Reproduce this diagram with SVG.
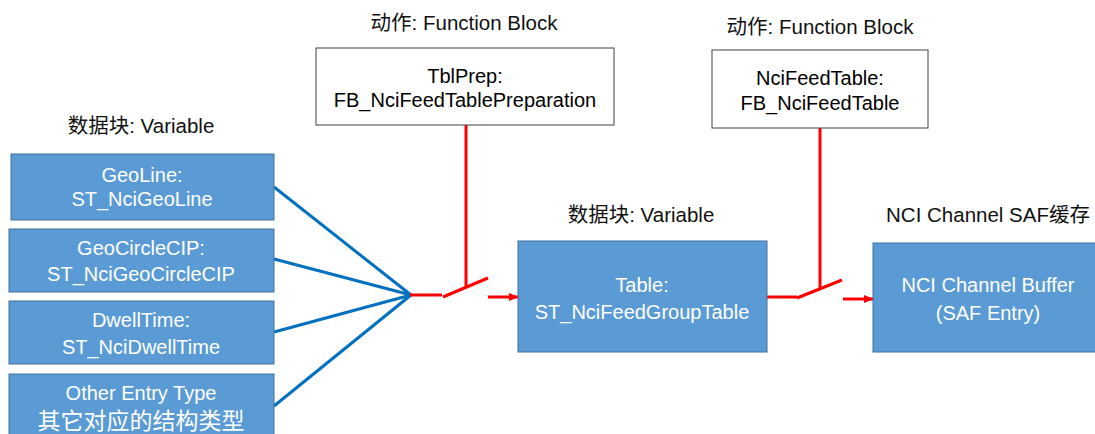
<svg xmlns="http://www.w3.org/2000/svg" width="1095" height="434" viewBox="0 0 1095 434">
  <defs>
    <marker id="redArrow" markerWidth="10" markerHeight="10" refX="9" refY="5" orient="auto" markerUnits="userSpaceOnUse">
      <path d="M0,1 L10,5 L0,9 Z" fill="#ff0000"/>
    </marker>
    <style>
      .var { fill: #5b9bd5; stroke: #41719c; stroke-width: 1; }
      .fb { fill: #ffffff; stroke: #404040; stroke-width: 1; }
      .inner { font-family: "Liberation Sans", "Noto Sans CJK SC", sans-serif; font-size: 20px; fill: #ffffff; text-anchor: middle; }
      .inner-cjk { font-size: 23px; }
      .fbtext { font-family: "Liberation Sans", "Noto Sans CJK SC", sans-serif; font-size: 20px; fill: #000000; text-anchor: middle; }
      .caption { font-family: "Liberation Sans", "Noto Sans CJK SC", sans-serif; font-size: 20.5px; fill: #111111; text-anchor: middle; }
      .blue { stroke: #0070c0; stroke-width: 3; fill: none; }
      .red { stroke: #ff0000; stroke-width: 3; fill: none; }
    </style>
  </defs>

  <rect width="1095" height="434" fill="#ffffff"/>

  <!-- section captions -->
  <g id="captions">
    <text class="caption" x="141" y="133">数据块: Variable</text>
    <text class="caption" x="464" y="30">动作: Function Block</text>
    <text class="caption" x="820" y="34">动作: Function Block</text>
    <text class="caption" x="641" y="222">数据块: Variable</text>
    <text class="caption" x="988" y="222">NCI Channel SAF缓存</text>
  </g>

  <!-- connectors -->
  <g id="connectors">
    <line class="blue" x1="274" y1="187" x2="411" y2="295"/>
    <line class="blue" x1="274" y1="259" x2="411" y2="295"/>
    <line class="blue" x1="274" y1="332" x2="411" y2="295"/>
    <line class="blue" x1="274" y1="406" x2="411" y2="295"/>

    <line class="red" x1="410" y1="295" x2="442" y2="295"/>
    <line class="red" x1="443" y1="297" x2="488" y2="278"/>
    <line class="red" x1="466" y1="125" x2="466" y2="287"/>
    <line class="red" x1="488" y1="297" x2="518" y2="297" marker-end="url(#redArrow)"/>

    <line class="red" x1="767" y1="297" x2="797" y2="297"/>
    <line class="red" x1="797" y1="298" x2="842" y2="280"/>
    <line class="red" x1="820" y1="128" x2="820" y2="289"/>
    <line class="red" x1="843" y1="299" x2="873" y2="299" marker-end="url(#redArrow)"/>
  </g>

  <!-- input variables -->
  <g id="geoline">
    <rect class="var" x="11" y="154" width="263" height="66"/>
    <text class="inner" x="142" y="182">GeoLine:</text>
    <text class="inner" x="142" y="206">ST_NciGeoLine</text>
  </g>
  <g id="geocirclecip">
    <rect class="var" x="9" y="229" width="265" height="63"/>
    <text class="inner" x="141" y="255">GeoCircleCIP:</text>
    <text class="inner" x="141" y="281">ST_NciGeoCircleCIP</text>
  </g>
  <g id="dwelltime">
    <rect class="var" x="9" y="301" width="265" height="63"/>
    <text class="inner" x="141" y="327">DwellTime:</text>
    <text class="inner" x="141" y="354">ST_NciDwellTime</text>
  </g>
  <g id="other-entry">
    <rect class="var" x="9" y="374" width="265" height="70"/>
    <text class="inner" x="141" y="400">Other Entry Type</text>
    <text class="inner inner-cjk" x="141" y="429">其它对应的结构类型</text>
  </g>

  <!-- function blocks -->
  <g id="tblprep">
    <rect class="fb" x="316" y="48" width="298" height="77"/>
    <text class="fbtext" x="465" y="83">TblPrep:</text>
    <text class="fbtext" x="465" y="107">FB_NciFeedTablePreparation</text>
  </g>
  <g id="ncifeedtable">
    <rect class="fb" x="712" y="50" width="216" height="78"/>
    <text class="fbtext" x="820" y="85">NciFeedTable:</text>
    <text class="fbtext" x="820" y="110">FB_NciFeedTable</text>
  </g>

  <!-- feed group table -->
  <g id="table">
    <rect class="var" x="518" y="241" width="249" height="111"/>
    <text class="inner" x="642" y="292">Table:</text>
    <text class="inner" x="642" y="319">ST_NciFeedGroupTable</text>
  </g>

  <!-- channel buffer -->
  <g id="channel-buffer">
    <rect class="var" x="873" y="243" width="232" height="109"/>
    <text class="inner" x="988" y="292">NCI Channel Buffer</text>
    <text class="inner" x="988" y="320">(SAF Entry)</text>
  </g>
</svg>
